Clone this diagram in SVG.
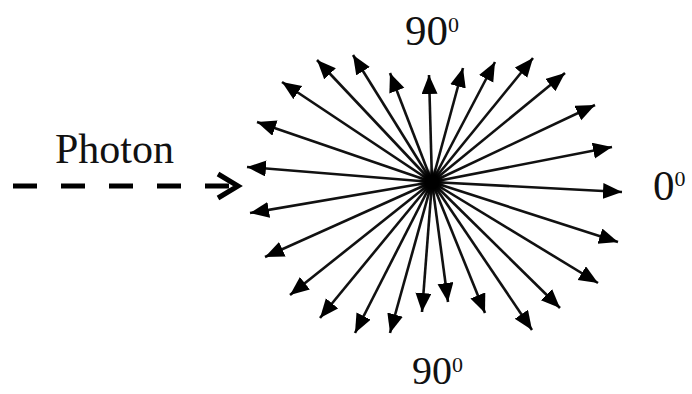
<svg xmlns="http://www.w3.org/2000/svg" width="692" height="394" viewBox="0 0 692 394">
<style>
.ray{stroke:#111;stroke-width:2.6;fill:none;marker-end:url(#head)}
.lbl{font-family:"Liberation Serif","Times New Roman",serif;fill:#111}
.big{font-size:43px}
.sup{font-size:22px}
</style>
<defs>
<marker id="head" markerUnits="userSpaceOnUse" markerWidth="22" markerHeight="18" refX="19" refY="8" orient="auto">
<path d="M0,0 L19,8 L0,16 Z" fill="#000"/>
</marker>
<filter id="soft" x="-50%" y="-50%" width="200%" height="200%"><feGaussianBlur stdDeviation="2"/></filter>
</defs>
<rect width="692" height="394" fill="#fff"/>
<g id="rays">
<line class="ray" x1="432" y1="182" x2="429" y2="75"/>
<line class="ray" x1="432" y1="182" x2="463" y2="68"/>
<line class="ray" x1="432" y1="182" x2="495" y2="62"/>
<line class="ray" x1="432" y1="182" x2="533" y2="58"/>
<line class="ray" x1="432" y1="182" x2="565" y2="73"/>
<line class="ray" x1="432" y1="182" x2="595" y2="105"/>
<line class="ray" x1="432" y1="182" x2="612" y2="147"/>
<line class="ray" x1="432" y1="182" x2="622" y2="192"/>
<line class="ray" x1="432" y1="182" x2="618" y2="242"/>
<line class="ray" x1="432" y1="182" x2="598" y2="283"/>
<line class="ray" x1="432" y1="182" x2="560" y2="308"/>
<line class="ray" x1="432" y1="182" x2="532" y2="330"/>
<line class="ray" x1="432" y1="182" x2="485" y2="313"/>
<line class="ray" x1="432" y1="182" x2="448" y2="302"/>
<line class="ray" x1="432" y1="182" x2="422" y2="312"/>
<line class="ray" x1="432" y1="182" x2="390" y2="333"/>
<line class="ray" x1="432" y1="182" x2="355" y2="333"/>
<line class="ray" x1="432" y1="182" x2="320" y2="318"/>
<line class="ray" x1="432" y1="182" x2="290" y2="295"/>
<line class="ray" x1="432" y1="182" x2="265" y2="257"/>
<line class="ray" x1="432" y1="182" x2="250" y2="213"/>
<line class="ray" x1="432" y1="182" x2="247" y2="167"/>
<line class="ray" x1="432" y1="182" x2="257" y2="122"/>
<line class="ray" x1="432" y1="182" x2="282" y2="82"/>
<line class="ray" x1="432" y1="182" x2="317" y2="60"/>
<line class="ray" x1="432" y1="182" x2="353" y2="55"/>
<line class="ray" x1="432" y1="182" x2="390" y2="73"/>
<circle cx="432" cy="182" r="11" fill="#000" filter="url(#soft)"/>
<circle cx="432" cy="182" r="7" fill="#000"/>
</g>
<g id="photon">
<line x1="13" y1="186" x2="229" y2="186" stroke="#000" stroke-width="5" stroke-dasharray="24 24"/>
<polyline points="218,174 238,186 218,198" fill="none" stroke="#000" stroke-width="5" stroke-linejoin="miter"/>
<text class="lbl" x="55" y="163" font-size="42">Photon</text>
</g>
<g id="label-top">
<text class="lbl big" x="405" y="45">90<tspan class="sup" dy="-13">0</tspan></text>
</g>
<g id="label-right">
<text class="lbl big" x="653" y="200">0<tspan class="sup" dy="-14">0</tspan></text>
</g>
<g id="label-bottom">
<text class="lbl" x="412" y="384" font-size="40">90<tspan class="sup" dy="-12">0</tspan></text>
</g>
</svg>
